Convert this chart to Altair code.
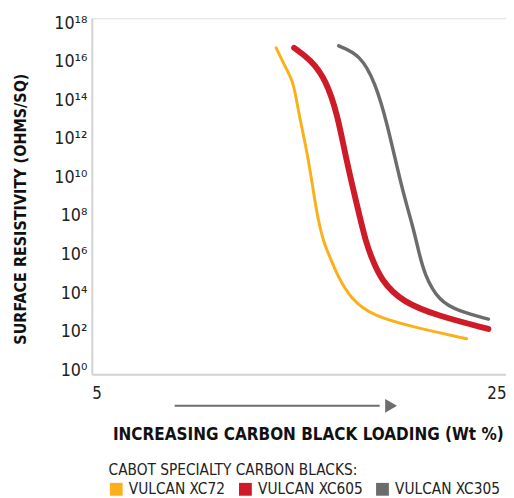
import altair as alt
import pandas as pd

# ---- data ----
xc72_loading = [13.9, 14.4, 14.75, 15.0, 15.45, 15.85, 16.2, 16.5, 16.8, 17.5, 18.6, 20.5, 23.1]
xc72_logres = [16.72, 15.6, 14.93, 13.24, 11.09, 8.13, 6.60, 5.88, 5.06, 3.68, 2.81, 2.25, 1.64]

xc605_loading = [14.77, 15.58, 16.3, 16.87, 17.25, 17.9, 18.25, 18.5, 18.95, 20.0, 21.77, 24.15]
xc605_logres = [16.72, 16.10, 15.08, 13.24, 11.09, 8.13, 6.60, 5.88, 4.70, 3.53, 2.81, 2.15]

xc305_loading = [16.92, 17.96, 18.68, 19.25, 19.96, 20.49, 20.77, 21.06, 21.77, 22.73, 24.15]
xc305_logres = [16.82, 16.36, 14.93, 12.88, 9.46, 7.52, 6.24, 4.96, 3.58, 3.07, 2.66]

series_names = ["VULCAN XC72", "VULCAN XC605", "VULCAN XC305"]
series_colors = ["#FBB01A", "#CE1B28", "#6B6C6E"]
series_widths = [3, 6, 3.5]

y_tick_exponents = [0, 2, 4, 6, 8, 10, 12, 14, 16, 18]
x_tick_values = [5, 25]
arrow_start, arrow_end, arrow_tip = 9.0, 18.9, 19.45

sup = str.maketrans("0123456789", "⁰¹²³⁴⁵⁶⁷⁸⁹")

rows = []
for name, xs, ys in zip(series_names,
                        [xc72_loading, xc605_loading, xc305_loading],
                        [xc72_logres, xc605_logres, xc305_logres]):
    for i, (x, y) in enumerate(zip(xs, ys)):
        rows.append({"series": name, "loading": x, "resistivity": 10 ** y, "order": i})
df = pd.DataFrame(rows)

FONT = "Liberation Sans Narrow, DejaVu Sans Condensed, Roboto, sans-serif"

expo = "round(log(datum.value)/LN10)"
label_expr = "".join(f"{expo} == {e} ? '10{str(e).translate(sup)}' : " for e in y_tick_exponents) + "''"

color_scale = alt.Scale(domain=series_names, range=series_colors)

x_enc = alt.X("loading:Q",
              scale=alt.Scale(domain=[5, 25], nice=False, zero=False),
              axis=alt.Axis(values=x_tick_values, ticks=False, grid=False, labelFlush=True,
                            labelPadding=12, labelFontSize=17, labelColor="#222",
                            domainColor="#d3d3d3", domainWidth=2,
                            title="INCREASING CARBON BLACK LOADING (Wt %)",
                            titleFontSize=17.2, titleFontWeight="bold", titleColor="#111",
                            titleBaseline="middle", titleY=61, titleX=219))
y_enc = alt.Y("resistivity:Q",
              scale=alt.Scale(type="log", domain=[10 ** -0.2, 10 ** 18.25], nice=False, zero=False),
              axis=alt.Axis(values=[10 ** e for e in y_tick_exponents], labelExpr=label_expr,
                            ticks=False, grid=False, labelPadding=5, labelFontSize=18,
                            labelColor="#222", domainColor="#d3d3d3", domainWidth=2,
                            title="SURFACE RESISTIVITY (OHMS/SQ)",
                            titleFontSize=16.2, titleFontWeight="bold", titleColor="#111",
                            titleAngle=270, titleBaseline="middle", titleAlign="center",
                            titleX=-72, titleY=193))

base = alt.Chart(df)

legend_layer = base.mark_square(opacity=0, size=1).encode(
    x=x_enc,
    y=y_enc,
    color=alt.Color("series:N", scale=color_scale,
                    legend=alt.Legend(orient="none", legendX=17, legendY=451, direction="horizontal",
                                      title="CABOT SPECIALTY CARBON BLACKS:", titleFontSize=15.5,
                                      titleFontWeight="normal", titleColor="#222", titlePadding=3,
                                      titleLimit=500, labelLimit=300,
                                      symbolType="square", symbolSize=169, symbolStrokeWidth=0,
                                      symbolOpacity=1, labelFontSize=15.5, labelColor="#222",
                                      labelOffset=5, columnPadding=12, padding=0)),
)

line_layers = []
for name, col, w in zip(series_names, series_colors, series_widths):
    line_layers.append(
        base.transform_filter(alt.datum.series == name)
        .mark_line(interpolate="basis", strokeCap="round", strokeJoin="round", color=col, strokeWidth=w)
        .encode(x="loading:Q", y="resistivity:Q", order="order:Q")
    )

arrow_df = pd.DataFrame({"x0": [arrow_start], "x1": [arrow_end], "tip": [arrow_tip]})
arrow_line = alt.Chart(arrow_df).mark_rule(color="#6d6d6d", strokeWidth=2).encode(
    x="x0:Q", x2="x1:Q", y=alt.value(393))
arrow_head = alt.Chart(arrow_df).mark_point(shape="triangle-right", filled=True, color="#6d6d6d",
                                           size=190, opacity=1).encode(
    x="tip:Q", y=alt.value(393))

chart = alt.layer(legend_layer, *line_layers, arrow_line, arrow_head).properties(
    width=420, height=361,
    autosize=alt.AutoSizeParams(type="none"),
    padding={"left": 85, "top": 7, "right": 0, "bottom": 122},
).configure_view(stroke=None).configure(font=FONT)

chart = chart.configure_axis(labelFont=FONT, titleFont=FONT).configure_legend(labelFont=FONT, titleFont=FONT)

chart.save("out.html", embed_options={"renderer": "svg", "actions": False})
